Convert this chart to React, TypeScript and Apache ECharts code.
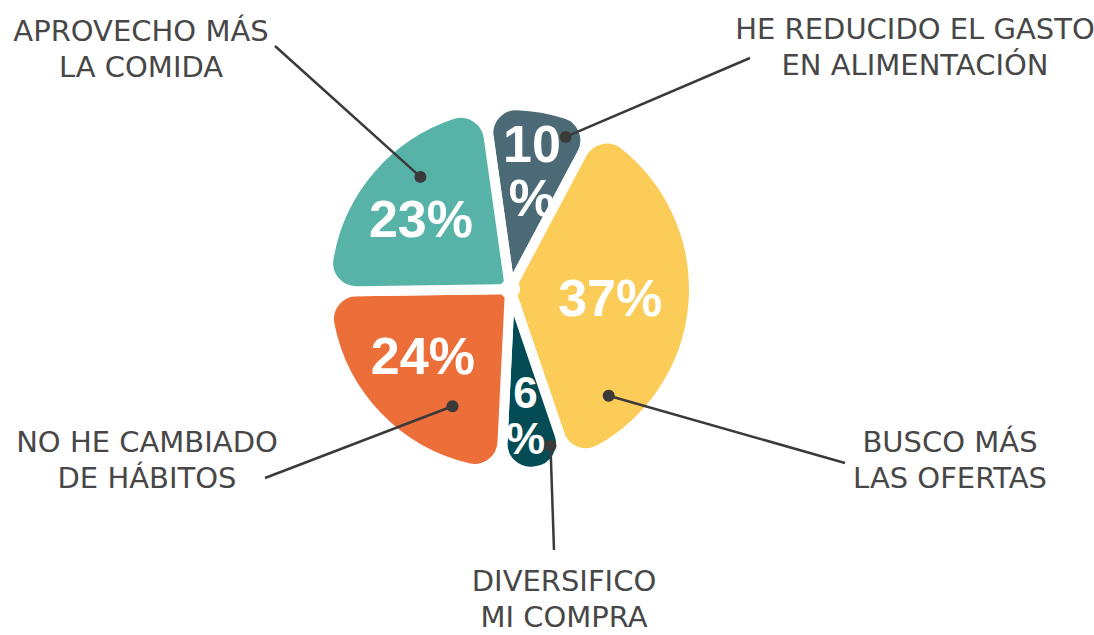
import React, { useEffect, useRef } from 'react';
import * as echarts from 'echarts';

// ---- data ----
const categories = [
  'HE REDUCIDO EL GASTO\nEN ALIMENTACIÓN',
  'BUSCO MÁS\nLAS OFERTAS',
  'DIVERSIFICO\nMI COMPRA',
  'NO HE CAMBIADO\nDE HÁBITOS',
  'APROVECHO MÁS\nLA COMIDA',
];
const values = [10, 37, 6, 24, 23];

// ---- styles / layout ----
const colors = ['#4B6A76', '#FCCC58', '#034B55', '#EC6F3A', '#57B2A8'];
const CENTER: [number, number] = [510, 289];
const RADIUS = 184;
const INNER = 5;
const START_ANGLE = 98;
// where each leader dot sits inside its slice: fraction along the slice's arc, fraction of radius
const dotAlong = [0.78, 0.82, 0.2, 0.27, 0.63];
const dotRadius = [0.88, 0.79, 0.88, 0.71, 0.78];
// outside label text centre and leader-line end
const labelPos = [
  { tx: 915, ty: 47, lx: 750, ly: 58 },
  { tx: 950, ty: 460, lx: 845, ly: 463 },
  { tx: 564, ty: 599, lx: 554, ly: 550 },
  { tx: 147, ty: 460, lx: 265, ly: 478 },
  { tx: 141, ty: 49, lx: 275, ly: 46 },
];
// nudges and sizes for the inner percentage labels
const innerNudge = [
  [5, -22],
  [3, 1],
  [2, 30],
  [-17, -1],
  [-15, -7],
];
const innerFont = [52, 52, 44, 52, 52];

export default function App() {
  const ref = useRef<HTMLDivElement>(null);

  useEffect(() => {
    if (!ref.current) return;
    const chart = echarts.init(ref.current, undefined, { renderer: 'svg' });

    const total = values.reduce((a, b) => a + b, 0);
    let cum = 0;
    const dotData = values.map((v, i) => {
      const a = cum + dotAlong[i] * v;
      cum += v;
      return [dotRadius[i], (a / total) * 100];
    });

    chart.setOption({
      animation: false,
      polar: { center: CENTER, radius: RADIUS },
      angleAxis: {
        type: 'value',
        min: 0,
        max: 100,
        startAngle: START_ANGLE,
        clockwise: true,
        show: false,
      },
      radiusAxis: { type: 'value', min: 0, max: 1, show: false },
      series: [
        {
          type: 'pie',
          center: CENTER,
          radius: [INNER, RADIUS],
          startAngle: START_ANGLE,
          clockwise: true,
          silent: true,
          avoidLabelOverlap: false,
          itemStyle: {
            borderColor: '#ffffff',
            borderWidth: 10,
            borderRadius: [6, 28],
          },
          label: {
            show: true,
            position: 'inside',
            color: '#ffffff',
            fontSize: 52,
            fontWeight: 'bold',
            fontFamily: '"Liberation Sans", Arial, sans-serif',
            lineHeight: 54,
            formatter: (p: any) => (p.value < 15 ? `${p.value}\n%` : `${p.value}%`),
          },
          labelLine: { show: false },
          labelLayout: (params: any) => ({
            dx: innerNudge[params.dataIndex][0],
            dy: innerNudge[params.dataIndex][1],
          }),
          data: values.map((v, i) => ({
            name: categories[i],
            value: v,
            itemStyle: { color: colors[i] },
            label: { fontSize: innerFont[i], lineHeight: innerFont[i] + 2 },
          })),
        },
        {
          type: 'custom',
          coordinateSystem: 'polar',
          silent: true,
          clip: false,
          z: 10,
          data: dotData,
          renderItem: (params: any, api: any) => {
            const i = params.dataIndex;
            const p = api.coord([api.value(0), api.value(1)]);
            const L = labelPos[i];
            return {
              type: 'group',
              children: [
                {
                  type: 'line',
                  shape: { x1: p[0], y1: p[1], x2: L.lx, y2: L.ly },
                  style: { stroke: '#3a3a3a', lineWidth: 2.5 },
                },
                {
                  type: 'circle',
                  shape: { cx: p[0], cy: p[1], r: 6 },
                  style: { fill: '#3a3a3a' },
                },
                {
                  type: 'text',
                  style: {
                    text: categories[i],
                    x: L.tx,
                    y: L.ty,
                    align: 'center',
                    verticalAlign: 'middle',
                    fill: '#474747',
                    font: '29px "DejaVu Sans", sans-serif',
                    lineHeight: 36,
                  },
                },
              ],
            };
          },
        },
      ],
    });

    return () => chart.dispose();
  }, []);

  return (
    <div
      ref={ref}
      style={{ position: 'fixed', left: 0, top: 0, width: 1094, height: 635, background: '#fff' }}
    />
  );
}
